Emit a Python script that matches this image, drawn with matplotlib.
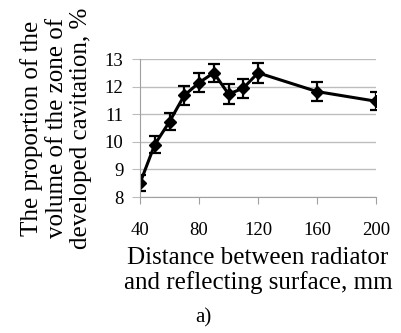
import matplotlib
matplotlib.use('Agg')
import matplotlib.pyplot as plt

plt.rcParams['font.family'] = ['Liberation Serif', 'DejaVu Serif']

distance = [40, 50, 60, 70, 80, 90, 100, 110, 120, 160, 200]
proportion = [8.5, 9.9, 10.73, 11.68, 12.14, 12.5, 11.73, 11.94, 12.5, 11.82, 11.47]
err = [0.28, 0.3, 0.32, 0.35, 0.35, 0.33, 0.35, 0.35, 0.36, 0.33, 0.33]
xticks = [40, 80, 120, 160, 200]
yticks = [8, 9, 10, 11, 12, 13]

fig = plt.figure(figsize=(4.01, 3.33), dpi=100)
ax = fig.add_axes([140/401, 1-197/333, 236/401, 138/333])

ax.errorbar(distance, proportion, yerr=err, color='black', lw=2.2,
            marker='D', ms=6.5, capsize=4.5, elinewidth=1.6, capthick=1.6)

ax.set_xlim(40, 200)
ax.set_ylim(8, 13)
ax.set_xticks(xticks)
ax.set_yticks(yticks)
ax.grid(axis='y', color='#bdbdbd', lw=1)
ax.set_axisbelow(True)
for s in ['top', 'right']:
    ax.spines[s].set_visible(False)
for s in ['left', 'bottom']:
    ax.spines[s].set_color('#a0a0a0')
ax.tick_params(axis='x', direction='out', length=5, color='#a0a0a0', labelsize=13.5, pad=13)
ax.tick_params(axis='y', direction='out', length=6, color='#bdbdbd', labelsize=13.5, pad=6)

ax.set_xlabel('Distance between radiator\nand reflecting surface, mm', fontsize=18,
              linespacing=1.12, labelpad=6)
ax.set_ylabel('The proportion of the\nvolume of the zone of\ndeveloped cavitation, %',
              fontsize=18, linespacing=1.15, labelpad=9)
fig.text(203/401, 1-318/333, 'a)', fontsize=15, ha='center', va='center')

fig.savefig('out.png', dpi=100)
